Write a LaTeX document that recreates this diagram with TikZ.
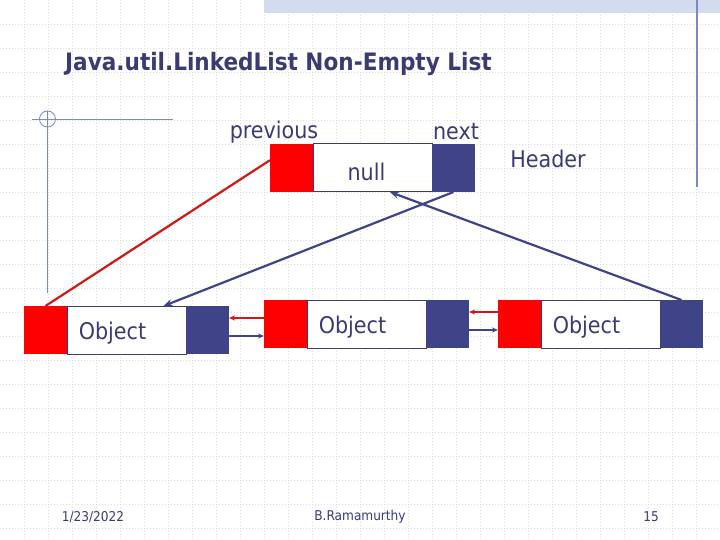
\documentclass[tikz,border=0pt]{standalone}
\usepackage{fontspec}
\setmainfont{DejaVu Sans Condensed}
\usepackage{tikz}
\usetikzlibrary{positioning}
\usetikzlibrary{arrows.meta}
\definecolor{navy}{HTML}{3F4488}
\definecolor{ink}{HTML}{3B3B72}
\definecolor{linkred}{HTML}{D01818}
\definecolor{gridgray}{HTML}{DCDCDC}
\definecolor{band}{HTML}{D3DCEF}
\definecolor{rulecol}{HTML}{7C8AC0}

\begin{document}
\begin{tikzpicture}[x=1pt, y=-1pt, node distance=0pt,
cell/.style={rectangle, minimum height=48pt, inner sep=0pt, outer sep=0pt},
prevbox/.style={cell, fill=red, minimum width=43pt},
nextbox/.style={cell, fill=navy, minimum width=43pt},
databox/.style={cell, draw=ink, line width=1pt, fill=white, minimum width=119pt},
word/.style={text=ink, font=\fontsize{23}{26}\selectfont, inner sep=0pt},
foot/.style={text=ink, font=\fontsize{13.5}{15}\selectfont, inner sep=0pt},
gridline/.style={gridgray, line width=0.7pt, dash pattern=on 1pt off 2pt},
redlink/.style={linkred, line width=2.2pt},
bluelink/.style={navy, line width=2.2pt}]
\def\tip{Stealth[length=9pt, width=7pt]}
\def\smalltip{Stealth[length=6pt, width=5pt]}
\useasboundingbox[fill=white] (0,0) rectangle (720,540);

% slide background
\foreach \gx in {24,48,...,720} \draw[gridline] (\gx,0) -- (\gx,540);
\foreach \gy in {24,48,...,528} \draw[gridline] (0,\gy) -- (720,\gy);
\fill[band] (264,0) rectangle (720,13);
\draw[rulecol, line width=1.2pt] (697,0) -- (697,187);
\draw[rulecol, line width=1pt] (32,119.5) -- (173,119.5);
\draw[rulecol, line width=1pt] (47,111) -- (47,293);
\draw[rulecol, line width=0.8pt] (47.5,119) circle (8);

\node[anchor=west, text=ink, font=\bfseries\fontsize{24}{28}\selectfont, inner sep=0pt] (title) at (65,64) {Java.util.LinkedList Non-Empty List};

% header
\node[databox] (hdata) at (372.5,168) {};
\node[prevbox] (hprev) [left=of hdata] {};
\node[nextbox] (hnext) [right=of hdata] {};
\node[word] (hnull) at ([xshift=-6pt, yshift=-4pt]hdata.center) {null};
\node[word] (hprevlbl) at (274,132) {previous};
\node[word] (hnextlbl) at (456,132) {next};
\node[word] (hlbl) at (548,159) {Header};

% list nodes
\node[databox] (n1data) at (126.5,330) {};
\node[prevbox] (n1prev) [left=of n1data] {};
\node[nextbox] (n1next) [right=of n1data] {};
\node[word] (n1obj) at ([xshift=-14pt, yshift=-3pt]n1data.center) {Object};

\node[databox] (n2data) at (366.5,324) {};
\node[prevbox] (n2prev) [left=of n2data] {};
\node[nextbox] (n2next) [right=of n2data] {};
\node[word] (n2obj) at ([xshift=-14pt, yshift=-3pt]n2data.center) {Object};

\node[databox] (n3data) at (600.5,324) {};
\node[prevbox] (n3prev) [left=of n3data] {};
\node[nextbox] (n3next) [right=of n3data] {};
\node[word] (n3obj) at ([xshift=-14pt, yshift=-3pt]n3data.center) {Object};

% links
\draw[redlink] (hprev.160) -- (n1prev.north);
\draw[bluelink, -{\tip}] (hnext.south) -- (n1data.33);
\draw[bluelink, -{\tip}] (n3next.north) -- (hdata.-54);

\draw[redlink, line width=1.4pt, -{\smalltip}] ([yshift=6pt]n2prev.west) -- ([yshift=6pt]n2prev.west -| n1next.east);
\draw[bluelink, line width=1.4pt, -{\smalltip}] ([yshift=-6pt]n1next.east) -- ([yshift=-6pt]n1next.east -| n2prev.west);
\draw[redlink, line width=1.4pt, -{\smalltip}] ([yshift=12pt]n3prev.west) -- ([yshift=12pt]n3prev.west -| n2next.east);
\draw[bluelink, line width=1.4pt, -{\smalltip}] ([yshift=-6pt]n2next.east) -- ([yshift=-6pt]n2next.east -| n3prev.west);

% footer
\node[foot] (date) at (93,517) {1/23/2022};
\node[foot] (author) at (360,517) {B.Ramamurthy};
\node[foot] (page) at (651,517) {15};
\end{tikzpicture}
\end{document}
